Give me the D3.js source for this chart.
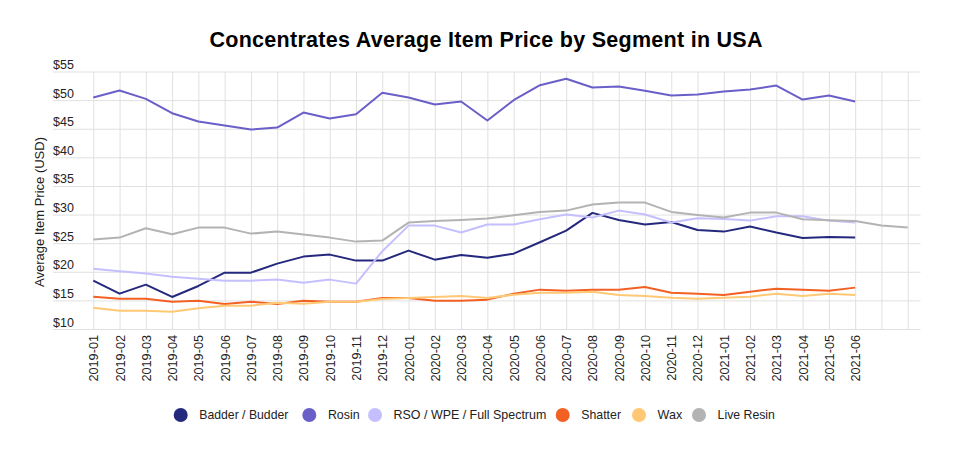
<!DOCTYPE html>
<html>
<head>
<meta charset="utf-8">
<script src="https://cdn.jsdelivr.net/npm/d3@7"></script>
<style>
  html, body { margin: 0; padding: 0; background: #fff; }
  svg { display: block; font-family: "Liberation Sans", Arial, sans-serif; }
</style>
</head>
<body>
<svg id="chart" width="954" height="460"></svg>
<script>
const months = ["2019-01","2019-02","2019-03","2019-04","2019-05","2019-06","2019-07","2019-08","2019-09","2019-10","2019-11","2019-12",
  "2020-01","2020-02","2020-03","2020-04","2020-05","2020-06","2020-07","2020-08","2020-09","2020-10","2020-11","2020-12",
  "2021-01","2021-02","2021-03","2021-04","2021-05","2021-06","2021-07","2021-08"];
const tickLabels = months.slice(0, 30);
const yTicks = [10, 15, 20, 25, 30, 35, 40, 45, 50, 55];

const badder = [18.45,16.18,17.75,15.6,17.52,19.85,19.85,21.43,22.65,23.0,21.95,21.95,
  23.7,22.12,22.94,22.47,23.17,25.16,27.2,30.29,29.06,28.25,28.71,27.31,27.02,27.9,26.85,25.91,26.09,25.97];
const rosin = [50.45,51.68,50.22,47.71,46.26,45.56,44.86,45.21,47.83,46.78,47.54,51.27,
  50.45,49.23,49.75,46.43,49.99,52.61,53.72,52.2,52.38,51.62,50.8,50.98,51.5,51.85,52.55,50.1,50.8,49.75];
const rso = [20.55,20.08,19.68,19.15,18.8,18.45,18.45,18.63,18.1,18.63,17.93,23.6,
  28.07,28.07,26.85,28.25,28.25,29.18,30.0,29.47,30.69,30.0,28.6,29.35,29.24,28.94,29.7,29.7,28.94,28.6];
const shatter = [15.65,15.3,15.3,14.78,14.95,14.37,14.78,14.37,14.95,14.78,14.78,15.42,
  15.42,14.95,14.95,15.13,16.18,16.88,16.7,16.88,16.88,17.34,16.35,16.18,15.95,16.53,17.05,16.88,16.7,17.23];
const wax = [13.73,13.2,13.2,13.03,13.61,14.08,14.08,14.6,14.43,14.78,14.78,15.25,
  15.42,15.6,15.77,15.42,16.0,16.35,16.35,16.53,15.95,15.77,15.48,15.3,15.48,15.65,16.18,15.77,16.18,15.95];
const liveResin = [25.62,25.97,27.6,26.55,27.72,27.72,26.67,27.02,26.5,25.97,25.27,25.45,
  28.6,28.89,29.06,29.3,29.88,30.46,30.69,31.74,32.09,32.09,30.46,29.94,29.47,30.34,30.34,29.18,29.0,28.89,28.07,27.72];

const seriesNames = ["Badder / Budder","Rosin","RSO / WPE / Full Spectrum","Shatter","Wax","Live Resin"];
const seriesValues = [badder, rosin, rso, shatter, wax, liveResin];
const colors = ["#25297d","#6a5fc9","#c5c0fd","#f26024","#ffc875","#b3b3b3"];

const svg = d3.select("#chart");
const plotTop = 71.5, plotBottom = 329, gridLeft = 53, gridRight = 920.5;

const x = d3.scalePoint().domain(months).range([93.3, 907.7]);
const y = d3.scaleLinear().domain([10, 55]).range([plotBottom, plotTop]);

// Title
svg.append("text")
  .attr("x", 486).attr("y", 47)
  .attr("text-anchor", "middle")
  .attr("font-size", 21.5).attr("font-weight", "bold").attr("fill", "#000")
  .attr("textLength", 553).attr("lengthAdjust", "spacing")
  .text("Concentrates Average Item Price by Segment in USA");

// Horizontal grid + y labels
const yAxis = d3.axisRight(y).tickValues(yTicks).tickSize(gridRight - gridLeft)
  .tickFormat(d => "$" + d);
const gy = svg.append("g").attr("transform", `translate(${gridLeft},0)`).call(yAxis);
gy.select(".domain").remove();
gy.selectAll("line").attr("stroke", "#e0e0e0").attr("stroke-width", 1);
gy.selectAll("text")
  .attr("x", 0).attr("y", -3).attr("dy", 0)
  .attr("text-anchor", "start")
  .attr("font-size", 12.5).attr("fill", "#222")
  .attr("font-family", "'Liberation Sans', Arial, sans-serif");

// Vertical grid + x labels
const xAxis = d3.axisBottom(x).tickSize(-(plotBottom - plotTop))
  .tickFormat(d => tickLabels.includes(d) ? d : "");
const gx = svg.append("g").attr("transform", `translate(0,${plotBottom})`).call(xAxis);
gx.select(".domain").remove();
gx.selectAll("line").attr("stroke", "#e0e0e0").attr("stroke-width", 1);
gx.selectAll("text")
  .attr("transform", "rotate(-90)")
  .attr("text-anchor", "end")
  .attr("x", -6).attr("y", 0).attr("dy", "0.35em")
  .attr("font-size", 12.7).attr("fill", "#222")
  .attr("font-family", "'Liberation Sans', Arial, sans-serif");

// Y axis title
svg.append("text")
  .attr("transform", "translate(44,212) rotate(-90)")
  .attr("text-anchor", "middle")
  .attr("font-size", 13).attr("fill", "#222")
  .text("Average Item Price (USD)");

// Lines
const line = d3.line().x((d, i) => x(months[i])).y(d => y(d));
seriesValues.forEach((vals, k) => {
  svg.append("path")
    .datum(vals)
    .attr("fill", "none")
    .attr("stroke", colors[k])
    .attr("stroke-width", 2)
    .attr("stroke-linejoin", "round")
    .attr("d", line);
});

// Legend
const legendX = [180.7, 309.3, 375, 562.7, 639, 699];
const legendW = [89, 31.7, 152.7, 39.7, 24.6, 57.3];
const legend = svg.append("g");
seriesNames.forEach((name, k) => {
  legend.append("circle")
    .attr("cx", legendX[k]).attr("cy", 415).attr("r", 7)
    .attr("fill", colors[k]);
  legend.append("text")
    .attr("x", legendX[k] + 18.6).attr("y", 415).attr("dy", "0.35em")
    .attr("font-size", 12.8).attr("fill", "#222")
    .attr("textLength", legendW[k]).attr("lengthAdjust", "spacingAndGlyphs")
    .text(name);
});
</script>
</body>
</html>
